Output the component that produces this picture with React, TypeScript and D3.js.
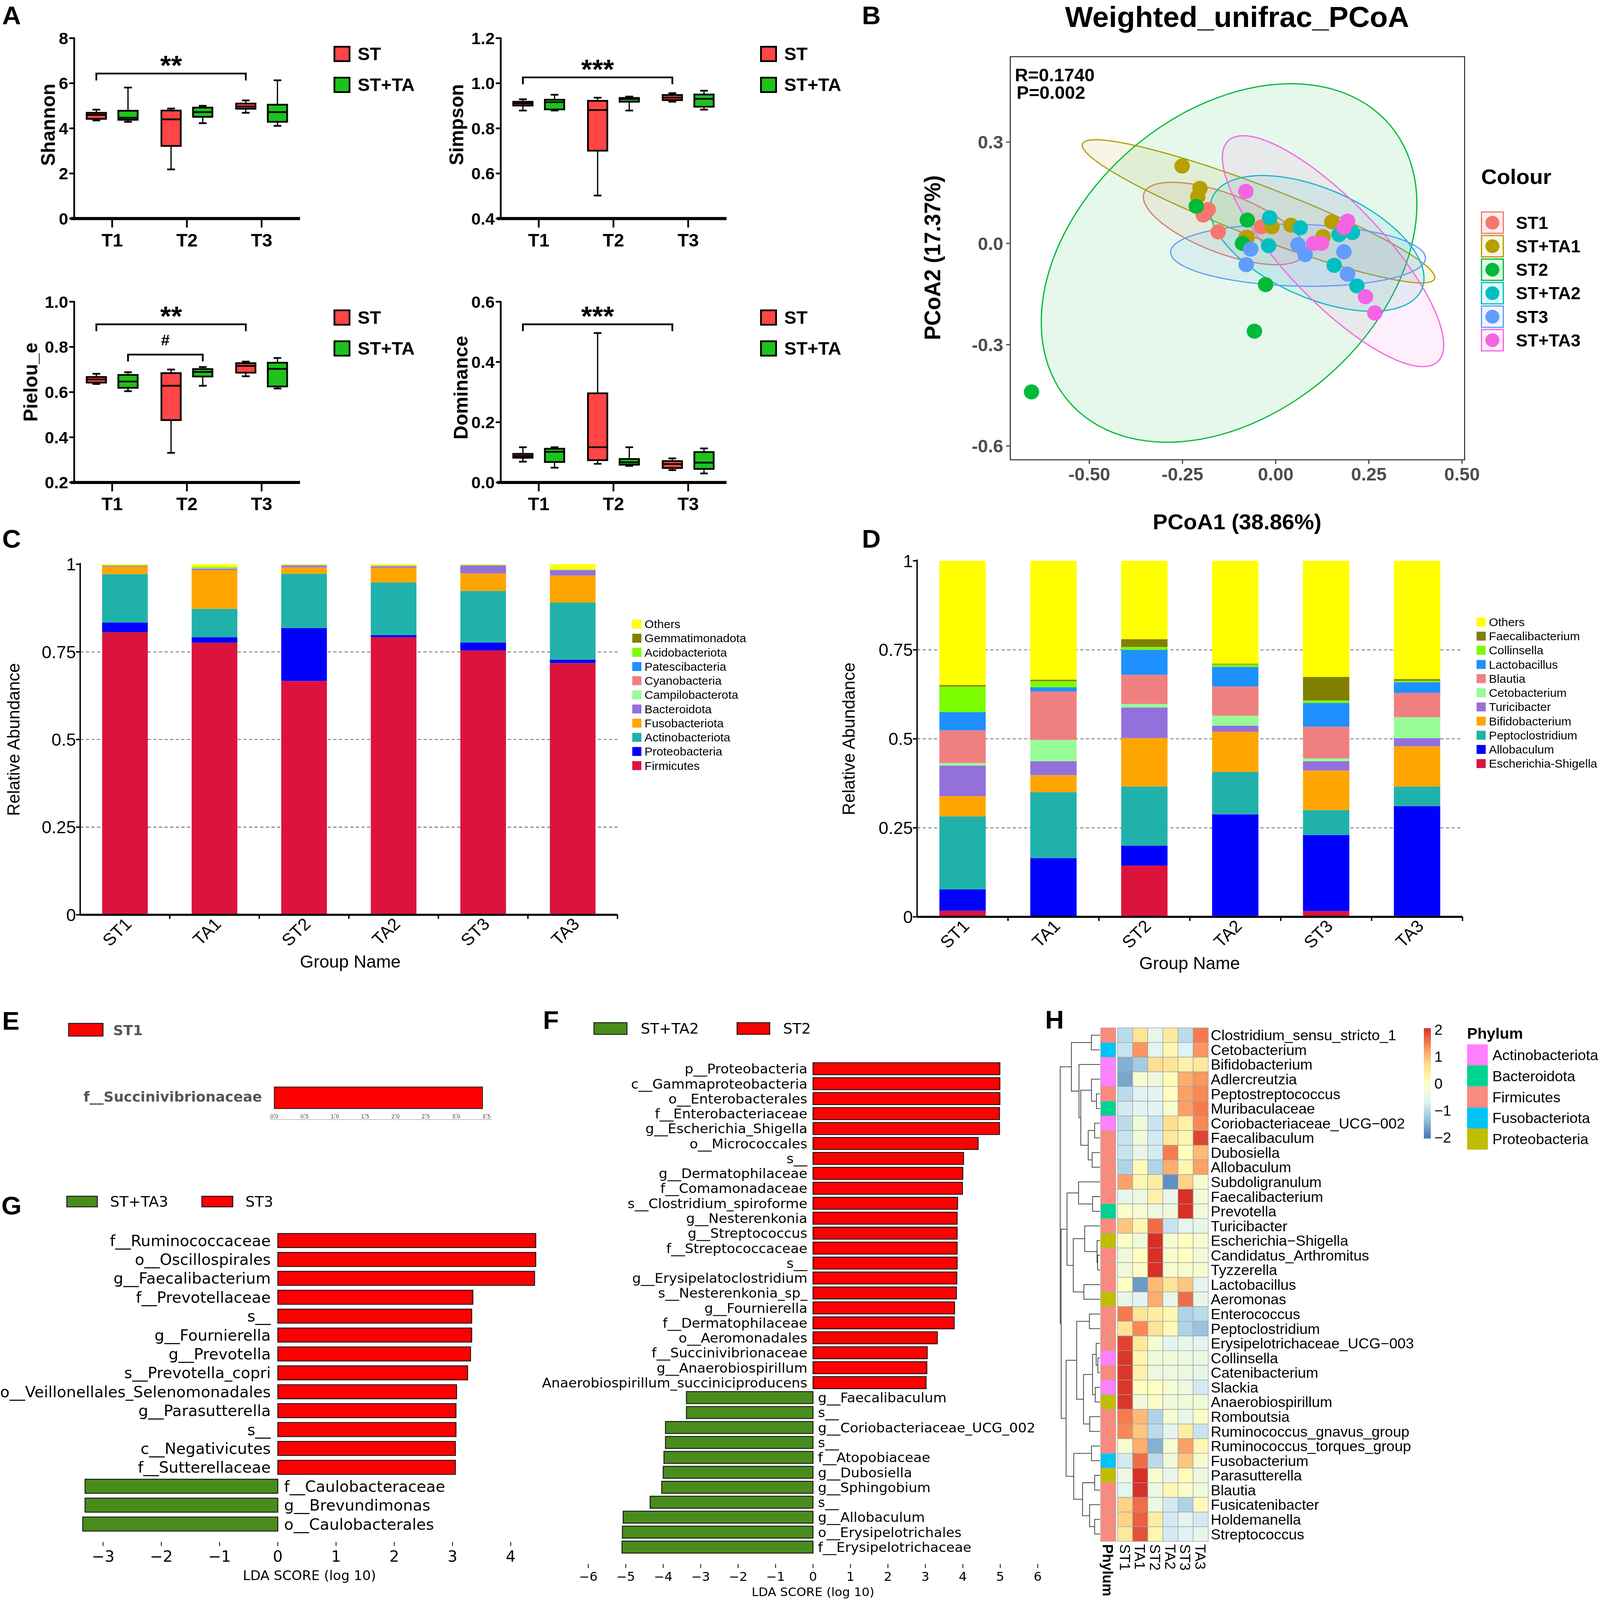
import React from 'react';
import * as d3 from 'd3';

const W = 4550;
const H = 4656;
const ARIAL = 'Liberation Sans, Arial, Helvetica, sans-serif';
const DEJAVU = 'DejaVu Sans, Verdana, sans-serif';
const MINUS = '\u2212';

// ---------------- A: alpha diversity ----------------
const timePoints = ['T1', 'T2', 'T3'];
const alphaGroups = ['ST', 'ST+TA'];
const alphaFill = ['#FF4545', '#1CC31C'];
// [min, q1, median, q3, max] for ST / ST+TA at each time point
const shannonStats = [
  [[4.35, 4.42, 4.6, 4.69, 4.83], [4.29, 4.38, 4.47, 4.78, 5.81]],
  [[2.18, 3.22, 4.4, 4.79, 4.88], [4.23, 4.51, 4.72, 4.92, 5.0]],
  [[4.69, 4.87, 4.97, 5.1, 5.24], [4.11, 4.29, 4.72, 5.05, 6.13]],
];
const simpsonStats = [
  [[0.879, 0.901, 0.91, 0.918, 0.929], [0.879, 0.884, 0.916, 0.927, 0.949]],
  [[0.502, 0.701, 0.881, 0.922, 0.936], [0.879, 0.918, 0.93, 0.935, 0.941]],
  [[0.918, 0.925, 0.936, 0.948, 0.956], [0.883, 0.896, 0.931, 0.95, 0.967]],
];
const pielouStats = [
  [[0.636, 0.642, 0.656, 0.667, 0.681], [0.604, 0.619, 0.647, 0.676, 0.688]],
  [[0.331, 0.476, 0.628, 0.684, 0.7], [0.628, 0.669, 0.689, 0.702, 0.711]],
  [[0.67, 0.686, 0.716, 0.728, 0.735], [0.616, 0.625, 0.703, 0.73, 0.751]],
];
const dominanceStats = [
  [[0.069, 0.082, 0.088, 0.095, 0.117], [0.049, 0.068, 0.102, 0.112, 0.117]],
  [[0.062, 0.074, 0.117, 0.296, 0.496], [0.055, 0.059, 0.067, 0.078, 0.117]],
  [[0.041, 0.048, 0.061, 0.071, 0.08], [0.03, 0.045, 0.066, 0.101, 0.113]],
];
const alphaBrackets = [
  { panel: 'Shannon', from: ['T1', 'ST'], to: ['T3', 'ST'], y: 6.43, label: '**' },
  { panel: 'Simpson', from: ['T1', 'ST'], to: ['T3', 'ST'], y: 1.026, label: '***' },
  { panel: 'Pielou_e', from: ['T1', 'ST'], to: ['T3', 'ST'], y: 0.9, label: '**' },
  { panel: 'Pielou_e', from: ['T1', 'ST+TA'], to: ['T2', 'ST+TA'], y: 0.766, label: '#' },
  { panel: 'Dominance', from: ['T1', 'ST'], to: ['T3', 'ST'], y: 0.525, label: '***' },
];

const alphaLayout = [
  { name: 'Shannon', stats: shannonStats, domain: [0, 8], step: 2, digits: 0, ax: 211, top: 111, bottom: 636, titleX: 156, titleY: 363 },
  { name: 'Simpson', stats: simpsonStats, domain: [0.4, 1.2], step: 0.2, digits: 1, ax: 1424, top: 111, bottom: 636, titleX: 1318, titleY: 363 },
  { name: 'Pielou_e', stats: pielouStats, domain: [0.2, 1.0], step: 0.2, digits: 1, ax: 211, top: 878, bottom: 1404, titleX: 106, titleY: 1112 },
  { name: 'Dominance', stats: dominanceStats, domain: [0, 0.6], step: 0.2, digits: 1, ax: 1424, top: 878, bottom: 1404, titleX: 1330, titleY: 1128 },
];

// ---------------- B: PCoA ----------------
const pcoaGroups = ['ST1', 'ST+TA1', 'ST2', 'ST+TA2', 'ST3', 'ST+TA3'];
const pcoaColors = ['#F8766D', '#B79F00', '#00BA38', '#00BFC4', '#619CFF', '#F564E3'];
// [group index, PC1, PC2]
const pcoaPoints = [
  [0, -0.181, 0.1], [0, -0.194, 0.084], [0, -0.154, 0.034], [0, -0.038, 0.049], [0, -0.08, 0.018],
  [1, -0.251, 0.229], [1, -0.203, 0.163], [1, -0.209, 0.138], [1, -0.076, 0.018], [1, 0.041, 0.054],
  [1, -0.01, 0.049], [1, 0.151, 0.064], [1, 0.127, 0.02],
  [2, -0.213, 0.11], [2, -0.076, 0.069], [2, -0.089, 0.0], [2, -0.027, -0.122], [2, -0.057, -0.26], [2, -0.655, -0.44],
  [3, -0.016, 0.076], [3, -0.019, -0.007], [3, 0.066, 0.046], [3, 0.17, 0.026], [3, 0.206, 0.032], [3, 0.157, -0.065], [3, 0.218, -0.126],
  [4, -0.067, -0.017], [4, -0.079, -0.063], [4, 0.06, -0.004], [4, 0.079, -0.033], [4, 0.183, -0.025], [4, 0.193, -0.091],
  [5, -0.08, 0.154], [5, 0.102, 0.0], [5, 0.123, 0.0], [5, 0.193, 0.066], [5, 0.183, 0.047], [5, 0.241, -0.158], [5, 0.266, -0.206],
];
// confidence ellipses: centre x, centre y, half width, half height, x shift of the topmost point
const ellipseExtents = [
  [-0.138, 0.059, 0.217, 0.122, -0.14],
  [-0.046, 0.095, 0.473, 0.212, -0.437],
  [-0.125, -0.058, 0.504, 0.531, 0.166],
  [0.111, 0.0, 0.287, 0.201, -0.147],
  [0.06, -0.035, 0.342, 0.092, -0.033],
  [0.154, -0.023, 0.297, 0.342, -0.241],
];
const pcoaXTicks = [-0.5, -0.25, 0, 0.25, 0.5];
const pcoaYTicks = [-0.6, -0.3, 0, 0.3];

// ---------------- C / D: relative abundance ----------------
const barGroups = ['ST1', 'TA1', 'ST2', 'TA2', 'ST3', 'TA3'];
const stackColors = ['#DC143C', '#0000FF', '#20B2AA', '#FFA500', '#9370DB', '#98FB98', '#F08080', '#1E90FF', '#7CFC00', '#808000', '#FFFF00'];
// bottom -> top
const phylumTaxa = ['Firmicutes', 'Proteobacteria', 'Actinobacteriota', 'Fusobacteriota', 'Bacteroidota', 'Campilobacterota', 'Cyanobacteria', 'Patescibacteria', 'Acidobacteriota', 'Gemmatimonadota', 'Others'];
const phylumAbund = [
  [0.806, 0.776, 0.667, 0.792, 0.754, 0.718],
  [0.028, 0.016, 0.151, 0.006, 0.023, 0.01],
  [0.138, 0.081, 0.155, 0.15, 0.147, 0.163],
  [0.021, 0.11, 0.018, 0.042, 0.05, 0.077],
  [0.002, 0.004, 0.005, 0.004, 0.022, 0.015],
  [0.0005, 0.0005, 0.0005, 0.0005, 0.0005, 0.0005],
  [0.0005, 0.0005, 0.0005, 0.0005, 0.0005, 0.0005],
  [0.0005, 0.0005, 0.0005, 0.0005, 0.0005, 0.0005],
  [0.0005, 0.003, 0.0005, 0.0005, 0.0005, 0.0005],
  [0.0005, 0.0005, 0.0005, 0.0005, 0.0005, 0.0005],
  [0.003, 0.008, 0.0015, 0.0035, 0.0015, 0.0145],
];
const genusTaxa = ['Escherichia-Shigella', 'Allobaculum', 'Peptoclostridium', 'Bifidobacterium', 'Turicibacter', 'Cetobacterium', 'Blautia', 'Lactobacillus', 'Collinsella', 'Faecalibacterium', 'Others'];
const genusAbund = [
  [0.017, 0.001, 0.144, 0.003, 0.016, 0.003],
  [0.06, 0.164, 0.056, 0.285, 0.214, 0.308],
  [0.205, 0.185, 0.166, 0.119, 0.07, 0.055],
  [0.057, 0.048, 0.136, 0.113, 0.111, 0.113],
  [0.086, 0.039, 0.086, 0.017, 0.026, 0.023],
  [0.007, 0.06, 0.01, 0.028, 0.008, 0.059],
  [0.092, 0.136, 0.082, 0.082, 0.089, 0.068],
  [0.051, 0.012, 0.07, 0.055, 0.067, 0.03],
  [0.072, 0.017, 0.008, 0.007, 0.007, 0.004],
  [0.004, 0.004, 0.022, 0.002, 0.066, 0.005],
  [0.349, 0.334, 0.22, 0.289, 0.326, 0.332],
];
const abundTicks = [0, 0.25, 0.5, 0.75, 1];

// ---------------- E / F / G: LEfSe ----------------
const ldaRed = '#FF0000';
const ldaGreen = '#4A8C1C';
const eNames = ['f__Succinivibrionaceae'];
const eScores = [3.437];
const eTicks = [0, 0.5, 1, 1.5, 2, 2.5, 3, 3.5];
const fNames = ['p__Proteobacteria', 'c__Gammaproteobacteria', 'o__Enterobacterales', 'f__Enterobacteriaceae', 'g__Escherichia_Shigella', 'o__Micrococcales', 's__', 'g__Dermatophilaceae', 'f__Comamonadaceae', 's__Clostridium_spiroforme', 'g__Nesterenkonia', 'g__Streptococcus', 'f__Streptococcaceae', 's__', 'g__Erysipelatoclostridium', 's__Nesterenkonia_sp_', 'g__Fournierella', 'f__Dermatophilaceae', 'o__Aeromonadales', 'f__Succinivibrionaceae', 'g__Anaerobiospirillum', 'Anaerobiospirillum_succiniciproducens', 'g__Faecalibaculum', 's__', 'g__Coriobacteriaceae_UCG_002', 's__', 'f__Atopobiaceae', 'g__Dubosiella', 'g__Sphingobium', 's__', 'g__Allobaculum', 'o__Erysipelotrichales', 'f__Erysipelotrichaceae'];
const fScores = [4.99, 4.99, 4.99, 4.98, 4.98, 4.41, 4.02, 4.0, 3.99, 3.86, 3.85, 3.85, 3.85, 3.85, 3.84, 3.83, 3.78, 3.77, 3.32, 3.05, 3.04, 3.02, -3.38, -3.38, -3.94, -3.94, -3.98, -4.0, -4.04, -4.35, -5.07, -5.09, -5.1];
const fTicks = d3.range(-6, 7);
const gNames = ['f__Ruminococcaceae', 'o__Oscillospirales', 'g__Faecalibacterium', 'f__Prevotellaceae', 's__', 'g__Fournierella', 'g__Prevotella', 's__Prevotella_copri', 'o__Veillonellales_Selenomonadales', 'g__Parasutterella', 's__', 'c__Negativicutes', 'f__Sutterellaceae', 'f__Caulobacteraceae', 'g__Brevundimonas', 'o__Caulobacterales'];
const gScores = [4.43, 4.43, 4.41, 3.35, 3.33, 3.33, 3.31, 3.26, 3.07, 3.06, 3.06, 3.05, 3.05, -3.31, -3.31, -3.35];
const gTicks = d3.range(-3, 5);

// ---------------- H: heatmap ----------------
const heatCols = ['ST1', 'TA1', 'ST2', 'TA2', 'ST3', 'TA3'];
const heatTaxa = ['Clostridium_sensu_stricto_1', 'Cetobacterium', 'Bifidobacterium', 'Adlercreutzia', 'Peptostreptococcus', 'Muribaculaceae', 'Coriobacteriaceae_UCG\u2212002', 'Faecalibaculum', 'Dubosiella', 'Allobaculum', 'Subdoligranulum', 'Faecalibacterium', 'Prevotella', 'Turicibacter', 'Escherichia\u2212Shigella', 'Candidatus_Arthromitus', 'Tyzzerella', 'Lactobacillus', 'Aeromonas', 'Enterococcus', 'Peptoclostridium', 'Erysipelotrichaceae_UCG\u2212003', 'Collinsella', 'Catenibacterium', 'Slackia', 'Anaerobiospirillum', 'Romboutsia', 'Ruminococcus_gnavus_group', 'Ruminococcus_torques_group', 'Fusobacterium', 'Parasutterella', 'Blautia', 'Fusicatenibacter', 'Holdemanella', 'Streptococcus'];
const heatPhylum = ['Firmicutes', 'Fusobacteriota', 'Actinobacteriota', 'Actinobacteriota', 'Firmicutes', 'Bacteroidota', 'Actinobacteriota', 'Firmicutes', 'Firmicutes', 'Firmicutes', 'Firmicutes', 'Firmicutes', 'Bacteroidota', 'Firmicutes', 'Proteobacteria', 'Firmicutes', 'Firmicutes', 'Firmicutes', 'Proteobacteria', 'Firmicutes', 'Firmicutes', 'Firmicutes', 'Actinobacteriota', 'Firmicutes', 'Actinobacteriota', 'Proteobacteria', 'Firmicutes', 'Firmicutes', 'Firmicutes', 'Fusobacteriota', 'Proteobacteria', 'Firmicutes', 'Firmicutes', 'Firmicutes', 'Firmicutes'];
const heatValues = [
  [-1.0, 0.6, -0.5, 0.5, -1.0, 1.5],
  [-0.9, 1.3, -0.6, 0.2, -0.7, 1.3],
  [-1.5, -1.2, 0.7, 0.6, 0.3, 0.5],
  [-1.6, -0.2, -0.4, 0.1, 1.1, 1.3],
  [-1.0, -0.7, -0.6, 0.0, 1.2, 1.4],
  [-0.8, -0.6, -0.6, -0.2, 1.2, 1.5],
  [-1.0, -0.3, -0.9, 0.7, 0.3, 1.4],
  [-0.9, -0.3, -0.8, 0.5, 0.2, 1.9],
  [-0.9, -0.5, -0.8, 1.5, 0.0, 1.0],
  [-1.1, 0.1, -1.1, 1.1, 0.2, 1.2],
  [1.2, 0.2, 0.4, -1.8, 0.8, -0.2],
  [-0.5, -0.4, 0.3, -0.5, 2.1, -0.3],
  [-0.1, -0.2, -0.4, -0.3, 2.1, -0.3],
  [0.9, 0.2, 1.6, -0.9, -0.6, -0.5],
  [-0.1, -0.3, 2.1, -0.2, 0.0, -0.2],
  [-0.3, 0.0, 2.1, -0.2, 0.0, -0.3],
  [-0.3, -0.1, 2.1, -0.2, -0.2, -0.2],
  [0.0, -1.7, 1.0, 0.6, 0.9, -0.6],
  [-0.5, -0.6, 1.1, -0.5, 1.6, -0.5],
  [1.5, 0.6, 0.4, 0.2, -1.1, -1.0],
  [0.6, 1.4, 0.6, 0.1, -1.1, -1.3],
  [1.9, 0.5, -0.2, -0.6, -0.5, -0.6],
  [2.0, 0.2, -0.3, -0.3, -0.4, -0.4],
  [2.0, 0.3, -0.4, -0.4, -0.4, -0.5],
  [2.0, 0.0, 0.0, -0.2, -0.4, -0.8],
  [2.0, -0.3, -0.1, -0.3, -0.3, -0.3],
  [1.5, 1.0, -1.1, -0.2, -0.5, -0.1],
  [1.4, 0.9, -1.0, -0.6, 0.4, -0.9],
  [-0.2, 1.1, -1.5, -0.2, 1.2, 0.2],
  [-0.8, 1.6, -1.0, -0.3, 0.9, -0.2],
  [-0.4, 2.1, -0.2, -0.5, 0.1, -0.4],
  [-0.6, 2.1, -0.4, 0.2, -0.1, -0.3],
  [0.8, 1.6, -0.4, -0.8, -1.1, 0.1],
  [0.8, 1.7, 0.4, -0.8, -0.6, -0.8],
  [0.5, 1.8, 0.2, -0.8, -0.7, -0.5],
];
const phylumNames = ['Actinobacteriota', 'Bacteroidota', 'Firmicutes', 'Fusobacteriota', 'Proteobacteria'];
const phylumColors = ['#FF80FF', '#00D28F', '#FA8A7E', '#00C4F5', '#C0BE00'];
const heatPalette = ['#4575B4', '#91BFDB', '#E0F3F8', '#FFFFBF', '#FEE090', '#FC8D59', '#D73027'];
const heatLegendTicks = [2, 1, 0, -1, -2];
// row dendrogram: [merge height, left, right], leaves are row indices
const rowTree = [338, [243, [73, 0, 1], [178, 2, [163, [72, 3, [30, 4, 5]], [100, [45, 6, 7], [67, 8, 9]]]]], [330, [280, [182, 10, [63, 11, 12]], [227, [130, 13, [25, 14, [20, 15, 16]]], [137, 17, 18]]], [288, [198, [90, 19, 20], [140, [63, [32, 21, [18, 22, 23]], [40, 24, 25]], [87, 26, 27]]], [223, [72, 28, 29], [148, [45, 30, 31], [88, 32, [45, 33, 34]]]]]]];

const signed = (v: number) => (v < 0 ? MINUS + Math.abs(v) : String(v));
const hyphenated = (fmt: (v: number) => string) => (v: number) => fmt(v).replace('\u2212', '-');

// ================= components =================
function AlphaPanel({ p }: any) {
  const y = d3.scaleLinear().domain(p.domain).range([p.bottom, p.top]);
  const x = d3.scalePoint().domain(timePoints).range([p.ax + 108, p.ax + 533]);
  const sub = d3.scaleBand().domain(alphaGroups).range([-72.5, 72.5]).paddingInner(0.389);
  const bw = sub.bandwidth();
  const cx = (t: string, g: string) => (x(t) as number) + (sub(g) as number) + bw / 2;
  const ticks = d3.range(p.domain[0], p.domain[1] + p.step / 2, p.step);
  const fmt = d3.format(`.${p.digits}f`);
  return (
    <g fontFamily={ARIAL} fontWeight="bold">
      <line x1={p.ax} x2={p.ax} y1={p.top - 2} y2={p.bottom} stroke="#000" strokeWidth={5} />
      {ticks.map((t: number) => (
        <g key={t}>
          <line x1={p.ax - 14} x2={p.ax} y1={y(t)} y2={y(t)} stroke="#000" strokeWidth={5} />
          <text x={p.ax - 17} y={y(t)} dy="0.36em" textAnchor="end" fontSize={48}>{fmt(t)}</text>
        </g>
      ))}
      <line x1={p.ax - 10} x2={p.ax + 642} y1={p.bottom} y2={p.bottom} stroke="#000" strokeWidth={9} />
      {timePoints.map((t) => (
        <g key={t}>
          <line x1={x(t)} x2={x(t)} y1={p.bottom} y2={p.bottom + 26} stroke="#000" strokeWidth={5} />
          <text x={x(t)} y={p.bottom + 81} textAnchor="middle" fontSize={52}>{t}</text>
        </g>
      ))}
      <text transform={`translate(${p.titleX},${p.titleY}) rotate(-90)`} textAnchor="middle" fontSize={56}>{p.name}</text>
      {p.stats.map((row: number[][], i: number) =>
        row.map((s: number[], j: number) => {
          const c = cx(timePoints[i], alphaGroups[j]);
          const [mn, q1, md, q3, mx] = s;
          return (
            <g key={`${i}-${j}`} stroke="#000">
              <line x1={c} x2={c} y1={y(mx)} y2={y(q3)} strokeWidth={3.5} />
              <line x1={c} x2={c} y1={y(q1)} y2={y(mn)} strokeWidth={3.5} />
              <line x1={c - 11} x2={c + 11} y1={y(mx)} y2={y(mx)} strokeWidth={5} />
              <line x1={c - 11} x2={c + 11} y1={y(mn)} y2={y(mn)} strokeWidth={5} />
              <rect x={c - bw / 2} width={bw} y={y(q3)} height={Math.max(1, y(q1) - y(q3))} fill={alphaFill[j]} strokeWidth={5} />
              <line x1={c - bw / 2} x2={c + bw / 2} y1={y(md)} y2={y(md)} strokeWidth={5} />
            </g>
          );
        })
      )}
      {alphaBrackets.filter((b) => b.panel === p.name).map((b, k) => {
        const x1 = cx(b.from[0], b.from[1]);
        const x2 = cx(b.to[0], b.to[1]);
        const yy = y(b.y);
        const hash = b.label === '#';
        return (
          <g key={k}>
            <path d={`M${x1},${yy + 20}V${yy}H${x2}V${yy + 20}`} fill="none" stroke="#000" strokeWidth={5} />
            <text x={(x1 + x2) / 2} y={hash ? yy - 27 : yy + 4} textAnchor="middle" fontSize={hash ? 44 : 80}>{b.label}</text>
          </g>
        );
      })}
      {alphaGroups.map((g, j) => {
        const ly = p.top + 25 + j * 90;
        return (
          <g key={g}>
            <rect x={p.ax + 740} y={ly} width={43} height={42} fill={alphaFill[j]} stroke="#000" strokeWidth={5} />
            <text x={p.ax + 806} y={ly + 39} fontSize={52}>{g}</text>
          </g>
        );
      })}
    </g>
  );
}

function PcoaPanel() {
  const x = d3.scaleLinear().domain([-0.712, 0.507]).range([2873, 4165]);
  const y = d3.scaleLinear().domain([-0.641, 0.553]).range([1338, 165]);
  const fx = hyphenated(d3.format('.2f'));
  const fy = hyphenated(d3.format('.1f'));
  const ellipsePath = (e: number[]) => {
    const [ecx, ecy, w, h, d] = e;
    const P = w * w + h * h;
    const Q = w * w - h * h;
    const R = 2 * d * h;
    const S = Math.hypot(Q, R);
    const a = Math.sqrt((P + S) / 2);
    const b = Math.sqrt(Math.max(0, (P - S) / 2));
    const th = 0.5 * Math.atan2(R, Q);
    const pts = d3.range(0, 360, 3).map((deg) => {
      const t = (deg * Math.PI) / 180;
      return [
        x(ecx + a * Math.cos(t) * Math.cos(th) - b * Math.sin(t) * Math.sin(th)),
        y(ecy + a * Math.cos(t) * Math.sin(th) + b * Math.sin(t) * Math.cos(th)),
      ] as [number, number];
    });
    return (d3.line()(pts) as string) + 'Z';
  };
  const [x0, x1] = x.range();
  const [y0, y1] = y.range();
  return (
    <g fontFamily={ARIAL}>
      <text x={3518} y={78} textAnchor="middle" fontSize={84} fontWeight="bold">Weighted_unifrac_PCoA</text>
      {ellipseExtents.map((e, i) => (
        <path key={i} d={ellipsePath(e)} fill={pcoaColors[i]} fillOpacity={0.1} stroke={pcoaColors[i]} strokeWidth={3.5} />
      ))}
      {pcoaPoints.map((pt, i) => (
        <circle key={i} cx={x(pt[1])} cy={y(pt[2])} r={22} fill={pcoaColors[pt[0]]} />
      ))}
      <rect x={x0} y={y1} width={x1 - x0} height={y0 - y1} fill="none" stroke="#333" strokeWidth={3} />
      {pcoaXTicks.map((t) => (
        <g key={t}>
          <line x1={x(t)} x2={x(t)} y1={y0} y2={y0 + 12} stroke="#333" strokeWidth={3} />
          <text x={x(t)} y={y0 + 60} textAnchor="middle" fontSize={52} fontWeight="bold" fill="#4D4D4D">{fx(t)}</text>
        </g>
      ))}
      {pcoaYTicks.map((t) => (
        <g key={t}>
          <line x1={x0 - 12} x2={x0} y1={y(t)} y2={y(t)} stroke="#333" strokeWidth={3} />
          <text x={x0 - 20} y={y(t)} dy="0.36em" textAnchor="end" fontSize={52} fontWeight="bold" fill="#4D4D4D">{fy(t)}</text>
        </g>
      ))}
      <text x={2886} y={236} fontSize={52} fontWeight="bold">R=0.1740</text>
      <text x={2891} y={288} fontSize={52} fontWeight="bold">P=0.002</text>
      <text x={3518} y={1540} textAnchor="middle" fontSize={63} fontWeight="bold">PCoA1 (38.86%)</text>
      <text transform="translate(2674,750) rotate(-90)" textAnchor="middle" fontSize={63} fontWeight="bold">PCoA2 (17.37%)</text>
      <text x={4212} y={535} fontSize={62} fontWeight="bold">Colour</text>
      {pcoaGroups.map((g, i) => {
        const cy = 648 + i * 68.4;
        return (
          <g key={g}>
            <rect x={4213} y={cy - 31} width={62} height={62} fill={pcoaColors[i]} fillOpacity={0.1} stroke={pcoaColors[i]} strokeWidth={3.5} />
            <circle cx={4244} cy={cy} r={20} fill={pcoaColors[i]} />
            <text x={4311} y={cy + 18} fontSize={50} fontWeight="bold">{g}</text>
          </g>
        );
      })}
    </g>
  );
}

function StackPanel({ taxa, abund, ax, right, top, bottom, legendX, legendY, titleX, groupX, groupY }: any) {
  const x = d3.scaleBand().domain(barGroups).range([ax, right]).paddingInner(0.49).paddingOuter(0.245);
  const y = d3.scaleLinear().domain([0, 1]).range([bottom, top]);
  const rows = barGroups.map((g, i) => {
    const o: any = { group: g };
    taxa.forEach((t: string, k: number) => (o[t] = abund[k][i]));
    return o;
  });
  const series = d3.stack().keys(taxa)(rows);
  const bw = x.bandwidth();
  const step = x.step();
  return (
    <g fontFamily={ARIAL}>
      {[0.25, 0.5, 0.75].map((t) => (
        <line key={t} x1={ax} x2={right} y1={y(t)} y2={y(t)} stroke="#555" strokeWidth={2} strokeDasharray="9,7" />
      ))}
      {series.map((s: any, k: number) => (
        <g key={k} fill={stackColors[k]}>
          {s.map((d: any, i: number) => (
            <rect key={i} x={x(barGroups[i])} width={bw} y={y(d[1])} height={Math.max(0, y(d[0]) - y(d[1]))} />
          ))}
        </g>
      ))}
      <line x1={ax} x2={ax} y1={top - 4} y2={bottom} stroke="#000" strokeWidth={4} />
      <line x1={ax} x2={right} y1={bottom} y2={bottom} stroke="#000" strokeWidth={6} />
      {abundTicks.map((t) => (
        <g key={t}>
          <line x1={ax - 12} x2={ax} y1={y(t)} y2={y(t)} stroke="#000" strokeWidth={4} />
          <text x={ax - 12} y={y(t)} dy="0.36em" textAnchor="end" fontSize={50}>{String(t)}</text>
        </g>
      ))}
      {barGroups.map((g) => {
        const c = (x(g) as number) + bw / 2;
        return (
          <g key={g}>
            <line x1={c + step / 2} x2={c + step / 2} y1={bottom} y2={bottom + 12} stroke="#000" strokeWidth={4} />
            <text transform={`translate(${c + 22},${bottom + 30}) rotate(-45)`} textAnchor="end" fontSize={50}>{g}</text>
          </g>
        );
      })}
      <text transform={`translate(${titleX},${(top + bottom) / 2}) rotate(-90)`} textAnchor="middle" fontSize={50}>Relative Abundance</text>
      <text x={groupX} y={groupY} textAnchor="middle" fontSize={50}>Group Name</text>
      {taxa.slice().reverse().map((t: string, i: number) => {
        const k = taxa.length - 1 - i;
        const cy = legendY + i * 41.2;
        return (
          <g key={t}>
            <rect x={legendX} y={cy - 13} width={26} height={26} fill={stackColors[k]} />
            <text x={legendX + 35} y={cy + 12} fontSize={34}>{t}</text>
          </g>
        );
      })}
    </g>
  );
}

function LdaPanel({ names, scores, zeroX, perUnit, firstY, step, barH, fontSize, gapL, gapR, ticks, tickY, tickFont, tickLabelY, titleX, titleY, titleFont }: any) {
  const x = d3.scaleLinear().domain([0, 1]).range([zeroX, zeroX + perUnit]);
  const n = names.length;
  const y = d3.scaleBand().domain(d3.range(n).map(String)).range([firstY - step / 2, firstY - step / 2 + n * step])
    .paddingInner(1 - barH / step).paddingOuter((1 - barH / step) / 2);
  return (
    <g fontFamily={DEJAVU}>
      {scores.map((s: number, i: number) => {
        const yy = y(String(i)) as number;
        const pos = s > 0;
        return (
          <g key={i}>
            <rect x={x(Math.min(0, s))} width={Math.abs(x(s) - x(0))} y={yy} height={y.bandwidth()} fill={pos ? ldaRed : ldaGreen} stroke="#111" strokeWidth={2.5} />
            <text x={pos ? zeroX - gapL : zeroX + gapR} y={yy + y.bandwidth() / 2} dy="0.36em" textAnchor={pos ? 'end' : 'start'} fontSize={fontSize}>{names[i]}</text>
          </g>
        );
      })}
      {ticks.map((t: number) => (
        <g key={t}>
          <line x1={x(t)} x2={x(t)} y1={tickY} y2={tickY + 12} stroke="#222" strokeWidth={2.5} />
          <text x={x(t)} y={tickLabelY} textAnchor="middle" fontSize={tickFont}>{signed(t)}</text>
        </g>
      ))}
      <text x={titleX} y={titleY} textAnchor="middle" fontSize={titleFont}>LDA SCORE (log 10)</text>
    </g>
  );
}

function PanelE() {
  const x = d3.scaleLinear().domain([0, 1]).range([780, 952.3]);
  return (
    <g fontFamily={DEJAVU}>
      <rect x={195} y={2978} width={98} height={37} fill={ldaRed} stroke="#111" strokeWidth={2.5} />
      <text x={322} y={3012} fontSize={40} fontWeight="bold" fill="#555">ST1</text>
      {eScores.map((s, i) => (
        <g key={i}>
          <rect x={x(0)} y={3163} width={x(s) - x(0)} height={63} fill={ldaRed} stroke="#111" strokeWidth={2} />
          <text x={745} y={3205} textAnchor="end" fontSize={40} fontWeight="bold" fill="#555">{eNames[i]}</text>
        </g>
      ))}
      <line x1={767} x2={1398} y1={3258} y2={3258} stroke="#999" strokeWidth={1.5} />
      {eTicks.map((t) => (
        <g key={t}>
          <line x1={x(t)} x2={x(t)} y1={3240} y2={3246} stroke="#666" strokeWidth={1.5} />
          <text x={x(t)} y={3254} textAnchor="middle" fontSize={15} fill="#444">{t.toFixed(1)}</text>
        </g>
      ))}
    </g>
  );
}

function LdaLegend({ items, y, h, font, positions }: any) {
  return (
    <g fontFamily={DEJAVU}>
      {items.map((it: any, i: number) => (
        <g key={it.label}>
          <rect x={positions[i][0]} y={y} width={positions[i][1]} height={h} fill={it.color} stroke="#111" strokeWidth={2.5} />
          <text x={positions[i][2]} y={y + h / 2} dy="0.36em" fontSize={font}>{it.label}</text>
        </g>
      ))}
    </g>
  );
}

function Heatmap() {
  const rowsY = d3.scaleBand().domain(d3.range(heatTaxa.length).map(String)).range([2991, 2991 + heatTaxa.length * 42.7]);
  const colsX = d3.scaleBand().domain(heatCols).range([3178, 3436]);
  const rh = rowsY.bandwidth();
  const cw = colsX.bandwidth();
  const color = d3.scaleLinear<string>().domain(d3.range(7).map((i) => -2.05 + (i * 4.1) / 6)).range(heatPalette).clamp(true);
  const phylumColor = d3.scaleOrdinal<string>().domain(phylumNames).range(phylumColors);
  const hx = d3.scaleLinear().domain([0, 338]).range([3128, 3015]);
  const segs: string[] = [];
  const lay = (node: any): { x: number; y: number } => {
    if (typeof node === 'number') return { x: hx(0), y: (rowsY(String(node)) as number) + rh / 2 };
    const A = lay(node[1]);
    const B = lay(node[2]);
    const xx = hx(node[0]);
    segs.push(`M${A.x},${A.y}H${xx}V${B.y}H${B.x}`);
    return { x: xx, y: (A.y + B.y) / 2 };
  };
  lay(rowTree);
  const legY = d3.scaleLinear().domain([-2.04, 2.05]).range([3313, 2992]);
  const bottom = 2991 + heatTaxa.length * 42.7;
  return (
    <g fontFamily={ARIAL}>
      <defs>
        <linearGradient id="heatGrad" x1="0" y1="1" x2="0" y2="0">
          {heatPalette.map((c, i) => (
            <stop key={i} offset={`${(i / 6) * 100}%`} stopColor={c} />
          ))}
        </linearGradient>
      </defs>
      {segs.map((d, i) => (
        <path key={i} d={d} fill="none" stroke="#333" strokeWidth={2} />
      ))}
      {heatTaxa.map((t, r) => {
        const yy = rowsY(String(r)) as number;
        return (
          <g key={t + r}>
            <rect x={3130} y={yy} width={43} height={rh} fill={phylumColor(heatPhylum[r])} stroke="#A8A8A8" strokeWidth={1.5} />
            {heatCols.map((c, j) => (
              <rect key={c} x={colsX(c)} y={yy} width={cw} height={rh} fill={color(heatValues[r][j])} stroke="#A0A0A0" strokeWidth={1.5} />
            ))}
            <text x={3443} y={yy + rh / 2} dy="0.36em" fontSize={42}>{t}</text>
          </g>
        );
      })}
      {heatCols.map((c) => (
        <text key={c} transform={`translate(${(colsX(c) as number) + cw / 2},${bottom + 8}) rotate(90)`} dy="0.36em" fontSize={42}>{c}</text>
      ))}
      <text transform={`translate(3151,${bottom + 8}) rotate(90)`} dy="0.36em" fontSize={42} fontWeight="bold">Phylum</text>
      <rect x={4049} y={2992} width={20} height={321} fill="url(#heatGrad)" />
      {heatLegendTicks.map((t) => (
        <text key={t} x={4079} y={legY(t)} dy="0.36em" fontSize={42}>{signed(t)}</text>
      ))}
      <text x={4172} y={3022} fontSize={44} fontWeight="bold">Phylum</text>
      {phylumNames.map((p, i) => (
        <g key={p}>
          <rect x={4172} y={3039 + i * 61.3} width={59} height={61.3} fill={phylumColors[i]} />
          <text x={4244} y={3039 + i * 61.3 + 30.6} dy="0.36em" fontSize={42}>{p}</text>
        </g>
      ))}
    </g>
  );
}

const panelLetters = [
  ['A', 6, 70], ['B', 2451, 70], ['C', 6, 1594], ['D', 2451, 1594],
  ['E', 6, 2996], ['F', 1544, 2994], ['G', 4, 3534], ['H', 2972, 2993],
];

export default function App() {
  return (
    <svg
      viewBox={`0 0 ${W} ${H}`}
      preserveAspectRatio="none"
      style={{ position: 'fixed', left: 0, top: 0, width: '100vw', height: '100vh', display: 'block' }}
    >
      <rect width={W} height={H} fill="#fff" />
      {panelLetters.map(([l, px, py]) => (
        <text key={l as string} x={px as number} y={py as number} fontFamily={ARIAL} fontWeight="bold" fontSize={74}>{l}</text>
      ))}
      {alphaLayout.map((p) => <AlphaPanel key={p.name} p={p} />)}
      <PcoaPanel />
      <StackPanel taxa={phylumTaxa} abund={phylumAbund} ax={228} right={1756} top={1642} bottom={2662} legendX={1798} legendY={1816} titleX={55} groupX={996} groupY={2816} />
      <StackPanel taxa={genusTaxa} abund={genusAbund} ax={2608} right={4159} top={1632} bottom={2668} legendX={4199} legendY={1810} titleX={2430} groupX={3383} groupY={2820} />
      <PanelE />
      <LdaLegend items={[{ label: 'ST+TA3', color: ldaGreen }, { label: 'ST3', color: ldaRed }]} y={3481} h={31} font={42} positions={[[190, 87, 313], [574, 88, 698]]} />
      <LdaPanel names={gNames} scores={gScores} zeroX={790} perUnit={165.6} firstY={3610} step={55} barH={41} fontSize={44} gapL={20} gapR={18} ticks={gTicks} tickY={4487} tickFont={44} tickLabelY={4545} titleX={880} titleY={4598} titleFont={38} />
      <LdaLegend items={[{ label: 'ST+TA2', color: ldaGreen }, { label: 'ST2', color: ldaRed }]} y={2976} h={34} font={42} positions={[[1689, 94, 1822], [2096, 93, 2227]]} />
      <LdaPanel names={fNames} scores={fScores} zeroX={2312} perUnit={106.5} firstY={3110} step={43.5} barH={35} fontSize={39} gapL={16} gapR={14} ticks={fTicks} tickY={4551} tickFont={36} tickLabelY={4600} titleX={2312} titleY={4645} titleFont={35} />
      <Heatmap />
    </svg>
  );
}
